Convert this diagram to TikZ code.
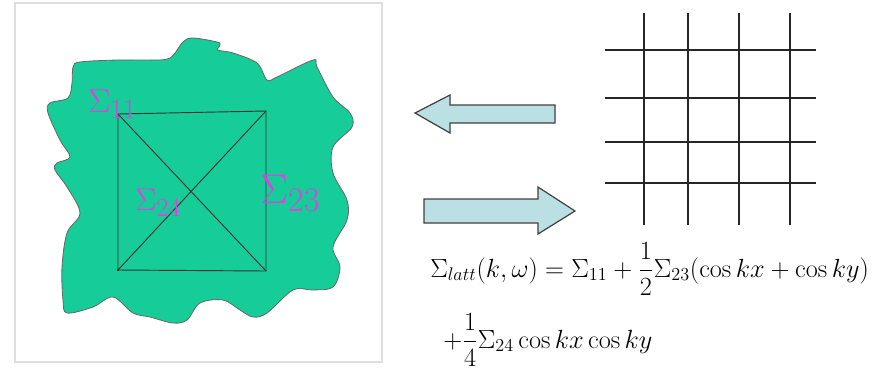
\documentclass[tikz,border=0pt]{standalone}
\usepackage{amsmath}
\usepackage{graphicx}
\usepackage{tikz}
\usetikzlibrary{arrows.meta,positioning,calc}

\definecolor{blobgreen}{RGB}{22,204,153}
\definecolor{sigmag}{RGB}{226,62,226}
\definecolor{arrowfill}{RGB}{186,224,228}
\definecolor{framegray}{RGB}{222,222,222}

\begin{document}
\begin{tikzpicture}[x=0.75pt, y=-0.75pt,
  lbl/.style={text=sigmag, inner sep=0pt, anchor=base west, font=\Huge},
  frm/.style={draw=framegray, line width=0.8pt},
  fat/.style={draw=black!75, fill=arrowfill, line width=0.9pt, line join=miter},
  gridline/.style={line width=1.4pt, black!85},
  eqn/.style={inner sep=0pt, anchor=base west, font=\LARGE},
]
\useasboundingbox (0,0) rectangle (883,376);

%% Frame round the cluster
\draw[frm] (15,3) rectangle (382,362);

%% Embedding medium
\draw[fill=blobgreen, draw=black!60, line width=0.6pt]
  plot[smooth cycle, tension=0.55] coordinates {
  (80,62) (117,60) (150,60) (170,58) (183,42) (193,38) (217,42) (220,45)
  (218,50) (233,53) (257,63) (267,80) (277,77) (313,60) (317,67) (333,97)
  (350,113) (352,127) (333,147) (333,173) (347,200) (347,220) (333,247)
  (340,267) (333,287) (313,290) (293,290) (267,313) (253,317) (240,310)
  (223,300) (200,303) (187,320) (173,323) (150,317) (133,313) (113,297)
  (93,307) (67,313) (63,300) (62,267) (67,233) (80,213) (67,187) (55,170)
  (57,163) (70,157) (60,140) (48,113) (50,103) (68,98) (72,83) (73,67)};

%% Cluster corners
\coordinate (tl) at (118,114);
\coordinate (tr) at (266,111);
\coordinate (bl) at (118,270);
\coordinate (br) at (266,271);
\draw[black!80, line width=0.7pt] (tl) -- (tr) -- (br) -- (bl) -- cycle;
\draw[black!80, line width=0.7pt] (tl) -- (br);
\draw[black!80, line width=0.7pt] (bl) -- (tr);
\fill (bl) circle (1.2);

%% Self-energy labels
\node[lbl] (s11) at (88,112) {$\Sigma_{11}$};
\node[lbl] (s24) at (135,210) {\scalebox{0.95}{$\Sigma_{24}$}};
\node[lbl] (s23) at (260,203) {\scalebox{1.25}{$\Sigma_{23}$}};

%% Arrows between cluster and lattice
\draw[fat] (415,113) -- (450,95) -- (450,105) -- (555,105) -- (555,123)
  -- (450,123) -- (450,133) -- cycle;
\draw[fat] (575,211) -- (538,187) -- (538,199) -- (424,199) -- (424,223)
  -- (538,223) -- (538,234) -- cycle;

%% Lattice
\foreach \gx in {644,688,739,790}
  \draw[gridline] (\gx,13) -- (\gx,225);
\foreach \gy in {50,98,142,183}
  \draw[gridline] (605,\gy) -- (816,\gy);

%% Lattice self-energy
\node[eqn] (eq1) at (430,277)
  {\scalebox{1.14}{$\Sigma_{latt}(k,\omega)=\Sigma_{11}+\dfrac{1}{2}\Sigma_{23}(\cos kx+\cos ky)$}};
\node[eqn] (eq2) at (443,348)
  {\scalebox{1.14}{$+\dfrac{1}{4}\Sigma_{24}\cos kx\cos ky$}};

\end{tikzpicture}
\end{document}
